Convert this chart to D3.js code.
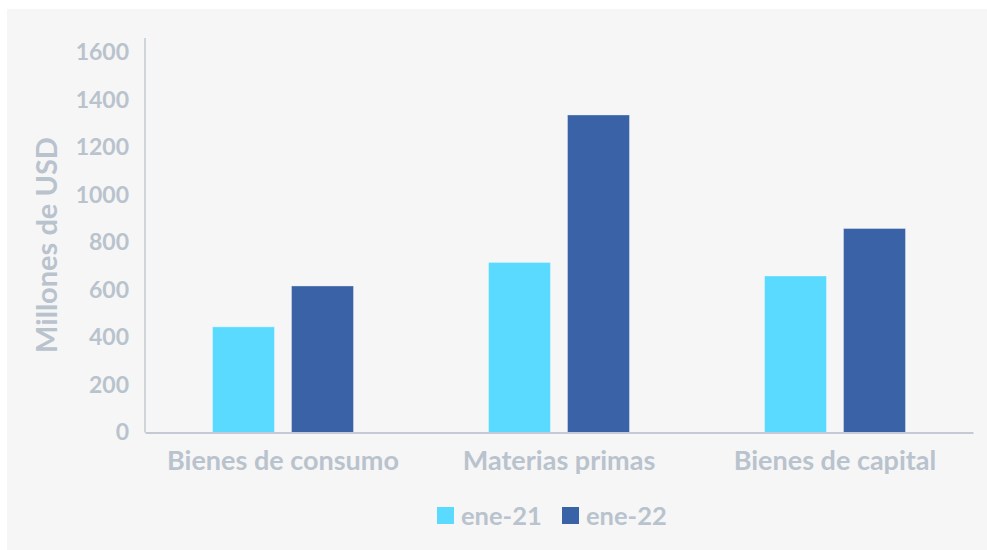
<!DOCTYPE html>
<html>
<head>
<meta charset="utf-8">
<script src="https://cdn.jsdelivr.net/npm/d3@7"></script>
<style>
  html, body { margin: 0; padding: 0; background: #ffffff; }
  svg { display: block; }
  text { font-family: Lato, "Open Sans", sans-serif; font-weight: 700; fill: #b9c3cd; }
</style>
</head>
<body>
<div id="chart"></div>
<script>
const categories = ["Bienes de consumo", "Materias primas", "Bienes de capital"];
const seriesNames = ["ene-21", "ene-22"];
const ene21 = [445, 716, 659];
const ene22 = [617, 1337, 859];
const yTicks = [0, 200, 400, 600, 800, 1000, 1200, 1400, 1600];
const colors = ["#5adafe", "#3a62a7"];

const width = 987,
    height = 550;

const svg = d3.select("#chart").append("svg")
    .attr("width", width)
    .attr("height", height);

// grey panel behind the chart
svg.append("rect")
    .attr("x", 7)
    .attr("y", 9)
    .attr("width", width - 7)
    .attr("height", height - 9)
    .attr("fill", "#f6f6f6");

const left = 145, right = 973, base = 432.5;

const x = d3.scaleBand()
    .domain(categories)
    .range([left, right])
    .paddingInner(0)
    .paddingOuter(0);

const inner = d3.scaleBand()
    .domain(seriesNames)
    .range([67.5, x.bandwidth() - 67.5])
    .paddingInner(0.215);

const y = d3.scaleLinear()
    .domain([0, 1600])
    .range([base, 52.5]);

const rows = categories.map((c, i) => ({cat: c, values: [ene21[i], ene22[i]]}));

const groups = svg.append("g")
    .selectAll("g")
    .data(rows)
    .join("g")
    .attr("transform", d => `translate(${x(d.cat)},0)`);

groups.selectAll("rect")
    .data(d => d.values.map((v, j) => ({name: seriesNames[j], value: v, j: j})))
    .join("rect")
    .attr("x", d => inner(d.name))
    .attr("width", inner.bandwidth())
    .attr("y", d => y(d.value))
    .attr("height", d => base - y(d.value))
    .attr("fill", d => colors[d.j])
    .attr("stroke", "rgba(255,255,255,0.35)")
    .attr("stroke-width", 1);

// y axis
const yAxis = svg.append("g")
    .attr("transform", `translate(${left},0)`)
    .call(d3.axisLeft(y).tickValues(yTicks).tickFormat(d3.format("d")).tickSize(0).tickPadding(16));
yAxis.select(".domain").remove();
yAxis.selectAll("text")
    .attr("font-size", 23)
    .attr("fill", "#b9c3cd")
    .style("font-family", "Lato, sans-serif")
    .style("font-weight", 700);

svg.append("line")
    .attr("x1", left).attr("x2", left)
    .attr("y1", 38).attr("y2", base)
    .attr("stroke", "#c3cad3")
    .attr("stroke-width", 1.5);

// x axis
const xAxis = svg.append("g")
    .attr("transform", `translate(0,${base})`)
    .call(d3.axisBottom(x).tickSize(0).tickPadding(18));
xAxis.select(".domain")
    .attr("stroke", "#c3cad3")
    .attr("stroke-width", 2);
xAxis.selectAll("text")
    .attr("font-size", 27)
    .attr("fill", "#b9c3cd")
    .style("font-family", "Lato, sans-serif")
    .style("font-weight", 700);

// y title
svg.append("text")
    .attr("transform", "translate(57,245) rotate(-90)")
    .attr("text-anchor", "middle")
    .attr("font-size", 29)
    .text("Millones de USD");

// legend
const legend = svg.append("g")
    .selectAll("g")
    .data(seriesNames)
    .join("g")
    .attr("transform", (d, i) => `translate(${437 + i * 125},507)`);

legend.append("rect")
    .attr("width", 17)
    .attr("height", 17)
    .attr("fill", (d, i) => colors[i]);

legend.append("text")
    .attr("x", 24)
    .attr("y", 9)
    .attr("dy", "0.35em")
    .attr("font-size", 25.5)
    .text(d => d);
</script>
</body>
</html>
